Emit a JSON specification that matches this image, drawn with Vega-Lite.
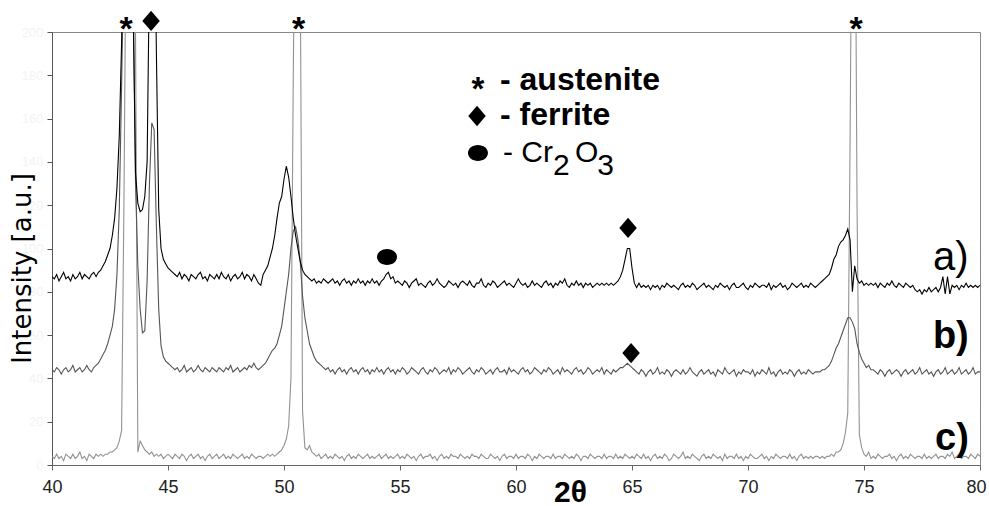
{
  "$schema": "https://vega.github.io/schema/vega-lite/v6.json",
  "width": 928,
  "height": 433,
  "autosize": {"type": "none"},
  "padding": {"left": 52, "top": 32, "right": 9, "bottom": 41},
  "background": "#ffffff",
  "config": {
    "view": {"stroke": "#888888", "strokeWidth": 1},
    "axis": {"grid": false}
  },
  "datasets": {
    "spec": [
{"x":40.0,"a":87,"b":44,"c":4},{"x":40.1,"a":86,"b":43,"c":3},{"x":40.2,"a":88,"b":45,"c":5},{"x":40.3,"a":85,"b":44,"c":3},{"x":40.4,"a":87,"b":42,"c":4},{"x":40.5,"a":89,"b":44,"c":2},{"x":40.6,"a":86,"b":45,"c":5},{"x":40.7,"a":87,"b":43,"c":4},{"x":40.8,"a":85,"b":44,"c":3},{"x":40.9,"a":88,"b":46,"c":5},
{"x":41.0,"a":86,"b":43,"c":3},{"x":41.1,"a":87,"b":44,"c":4},{"x":41.2,"a":89,"b":45,"c":6},{"x":41.3,"a":86,"b":43,"c":3},{"x":41.4,"a":88,"b":44,"c":4},{"x":41.5,"a":87,"b":46,"c":2},{"x":41.6,"a":86,"b":44,"c":5},{"x":41.7,"a":88,"b":43,"c":4},{"x":41.8,"a":89,"b":45,"c":3},{"x":41.9,"a":87,"b":46,"c":5},
{"x":42.0,"a":89,"b":47,"c":4},{"x":42.1,"a":90,"b":49,"c":5},{"x":42.2,"a":92,"b":51,"c":4},{"x":42.3,"a":94,"b":53,"c":5},{"x":42.4,"a":97,"b":56,"c":5},{"x":42.5,"a":100,"b":60,"c":6},{"x":42.6,"a":106,"b":64,"c":6},{"x":42.7,"a":114,"b":72,"c":7},{"x":42.8,"a":128,"b":88,"c":8},{"x":42.9,"a":152,"b":118,"c":11},
{"x":43.0,"a":195,"b":175,"c":16},{"x":43.1,"a":260,"b":240,"c":120},{"x":43.2,"a":300,"b":300,"c":260},{"x":43.3,"a":280,"b":320,"c":320},{"x":43.4,"a":240,"b":290,"c":330},{"x":43.5,"a":210,"b":220,"c":300},{"x":43.6,"a":135,"b":130,"c":200},{"x":43.7,"a":121,"b":92,"c":6},{"x":43.8,"a":117,"b":72,"c":11},{"x":43.9,"a":118,"b":61,"c":9},
{"x":44.0,"a":124,"b":62,"c":7},{"x":44.1,"a":140,"b":85,"c":6},{"x":44.2,"a":230,"b":130,"c":5},{"x":44.3,"a":300,"b":158,"c":6},{"x":44.4,"a":280,"b":155,"c":4},{"x":44.5,"a":190,"b":110,"c":5},{"x":44.6,"a":118,"b":72,"c":4},{"x":44.7,"a":100,"b":55,"c":5},{"x":44.8,"a":95,"b":50,"c":3},{"x":44.9,"a":93,"b":48,"c":4},
{"x":45.0,"a":91,"b":47,"c":5},{"x":45.1,"a":90,"b":46,"c":4},{"x":45.2,"a":89,"b":45,"c":3},{"x":45.3,"a":88,"b":44,"c":5},{"x":45.4,"a":87,"b":45,"c":4},{"x":45.5,"a":89,"b":43,"c":3},{"x":45.6,"a":86,"b":44,"c":5},{"x":45.7,"a":88,"b":46,"c":4},{"x":45.8,"a":87,"b":43,"c":2},{"x":45.9,"a":85,"b":44,"c":4},
{"x":46.0,"a":88,"b":45,"c":5},{"x":46.1,"a":87,"b":43,"c":3},{"x":46.2,"a":86,"b":44,"c":4},{"x":46.3,"a":88,"b":46,"c":5},{"x":46.4,"a":89,"b":44,"c":3},{"x":46.5,"a":86,"b":43,"c":4},{"x":46.6,"a":87,"b":45,"c":2},{"x":46.7,"a":85,"b":44,"c":4},{"x":46.8,"a":88,"b":43,"c":5},{"x":46.9,"a":87,"b":45,"c":3},
{"x":47.0,"a":86,"b":44,"c":4},{"x":47.1,"a":88,"b":43,"c":5},{"x":47.2,"a":86,"b":45,"c":3},{"x":47.3,"a":89,"b":44,"c":4},{"x":47.4,"a":87,"b":43,"c":5},{"x":47.5,"a":86,"b":45,"c":3},{"x":47.6,"a":88,"b":44,"c":4},{"x":47.7,"a":85,"b":46,"c":3},{"x":47.8,"a":87,"b":43,"c":5},{"x":47.9,"a":88,"b":44,"c":4},
{"x":48.0,"a":86,"b":45,"c":3},{"x":48.1,"a":87,"b":43,"c":4},{"x":48.2,"a":89,"b":44,"c":5},{"x":48.3,"a":86,"b":45,"c":3},{"x":48.4,"a":88,"b":44,"c":4},{"x":48.5,"a":87,"b":46,"c":3},{"x":48.6,"a":85,"b":45,"c":5},{"x":48.7,"a":88,"b":47,"c":4},{"x":48.8,"a":86,"b":45,"c":3},{"x":48.9,"a":84,"b":44,"c":4},
{"x":49.0,"a":83,"b":45,"c":4},{"x":49.1,"a":88,"b":46,"c":3},{"x":49.2,"a":90,"b":47,"c":4},{"x":49.3,"a":92,"b":49,"c":5},{"x":49.4,"a":96,"b":51,"c":4},{"x":49.5,"a":100,"b":53,"c":5},{"x":49.6,"a":106,"b":54,"c":4},{"x":49.7,"a":114,"b":56,"c":5},{"x":49.8,"a":121,"b":60,"c":6},{"x":49.9,"a":124,"b":64,"c":7},
{"x":50.0,"a":132,"b":72,"c":9},{"x":50.1,"a":138,"b":80,"c":12},{"x":50.2,"a":133,"b":88,"c":18},{"x":50.3,"a":124,"b":100,"c":40},{"x":50.4,"a":114,"b":108,"c":180},{"x":50.5,"a":106,"b":110,"c":290},{"x":50.6,"a":100,"b":104,"c":330},{"x":50.7,"a":94,"b":94,"c":230},{"x":50.8,"a":90,"b":78,"c":25},{"x":50.9,"a":88,"b":68,"c":8},
{"x":51.0,"a":87,"b":62,"c":7},{"x":51.1,"a":86,"b":56,"c":9},{"x":51.2,"a":85,"b":53,"c":6},{"x":51.3,"a":86,"b":50,"c":5},{"x":51.4,"a":84,"b":48,"c":4},{"x":51.5,"a":85,"b":47,"c":5},{"x":51.6,"a":84,"b":46,"c":3},{"x":51.7,"a":86,"b":45,"c":4},{"x":51.8,"a":85,"b":44,"c":5},{"x":51.9,"a":84,"b":45,"c":3},
{"x":52.0,"a":85,"b":43,"c":4},{"x":52.1,"a":86,"b":44,"c":3},{"x":52.2,"a":84,"b":42,"c":5},{"x":52.3,"a":85,"b":44,"c":4},{"x":52.4,"a":83,"b":45,"c":3},{"x":52.5,"a":85,"b":43,"c":4},{"x":52.6,"a":86,"b":44,"c":2},{"x":52.7,"a":84,"b":42,"c":4},{"x":52.8,"a":85,"b":44,"c":5},{"x":52.9,"a":83,"b":45,"c":3},
{"x":53.0,"a":85,"b":43,"c":4},{"x":53.1,"a":84,"b":44,"c":3},{"x":53.2,"a":86,"b":42,"c":5},{"x":53.3,"a":84,"b":44,"c":4},{"x":53.4,"a":85,"b":45,"c":3},{"x":53.5,"a":83,"b":43,"c":4},{"x":53.6,"a":85,"b":44,"c":5},{"x":53.7,"a":84,"b":42,"c":3},{"x":53.8,"a":86,"b":44,"c":4},{"x":53.9,"a":84,"b":43,"c":3},
{"x":54.0,"a":85,"b":45,"c":4},{"x":54.1,"a":83,"b":43,"c":5},{"x":54.2,"a":85,"b":44,"c":3},{"x":54.3,"a":86,"b":42,"c":4},{"x":54.4,"a":88,"b":44,"c":5},{"x":54.5,"a":89,"b":45,"c":3},{"x":54.6,"a":86,"b":43,"c":4},{"x":54.7,"a":87,"b":44,"c":3},{"x":54.8,"a":84,"b":42,"c":4},{"x":54.9,"a":85,"b":44,"c":5},
{"x":55.0,"a":84,"b":43,"c":3},{"x":55.1,"a":83,"b":45,"c":4},{"x":55.2,"a":85,"b":44,"c":3},{"x":55.3,"a":84,"b":42,"c":5},{"x":55.4,"a":82,"b":43,"c":4},{"x":55.5,"a":84,"b":45,"c":3},{"x":55.6,"a":85,"b":44,"c":4},{"x":55.7,"a":86,"b":43,"c":2},{"x":55.8,"a":83,"b":42,"c":4},{"x":55.9,"a":84,"b":44,"c":5},
{"x":56.0,"a":83,"b":45,"c":3},{"x":56.1,"a":82,"b":43,"c":4},{"x":56.2,"a":84,"b":42,"c":4},{"x":56.3,"a":85,"b":44,"c":5},{"x":56.4,"a":83,"b":43,"c":3},{"x":56.5,"a":84,"b":45,"c":4},{"x":56.6,"a":86,"b":44,"c":2},{"x":56.7,"a":84,"b":42,"c":4},{"x":56.8,"a":83,"b":43,"c":5},{"x":56.9,"a":82,"b":44,"c":3},
{"x":57.0,"a":83,"b":43,"c":4},{"x":57.1,"a":85,"b":45,"c":3},{"x":57.2,"a":84,"b":42,"c":5},{"x":57.3,"a":83,"b":44,"c":4},{"x":57.4,"a":84,"b":43,"c":4},{"x":57.5,"a":82,"b":45,"c":3},{"x":57.6,"a":84,"b":44,"c":5},{"x":57.7,"a":85,"b":42,"c":4},{"x":57.8,"a":84,"b":43,"c":3},{"x":57.9,"a":83,"b":44,"c":4},
{"x":58.0,"a":85,"b":45,"c":3},{"x":58.1,"a":83,"b":43,"c":5},{"x":58.2,"a":82,"b":42,"c":4},{"x":58.3,"a":84,"b":44,"c":4},{"x":58.4,"a":84,"b":43,"c":3},{"x":58.5,"a":86,"b":45,"c":5},{"x":58.6,"a":83,"b":44,"c":4},{"x":58.7,"a":82,"b":42,"c":3},{"x":58.8,"a":84,"b":43,"c":3},{"x":58.9,"a":83,"b":44,"c":5},
{"x":59.0,"a":85,"b":42,"c":4},{"x":59.1,"a":84,"b":44,"c":3},{"x":59.2,"a":82,"b":45,"c":4},{"x":59.3,"a":83,"b":43,"c":2},{"x":59.4,"a":84,"b":43,"c":4},{"x":59.5,"a":85,"b":44,"c":5},{"x":59.6,"a":83,"b":42,"c":3},{"x":59.7,"a":84,"b":45,"c":4},{"x":59.8,"a":83,"b":43,"c":4},{"x":59.9,"a":82,"b":44,"c":3},
{"x":60.0,"a":84,"b":43,"c":5},{"x":60.1,"a":86,"b":42,"c":3},{"x":60.2,"a":84,"b":44,"c":4},{"x":60.3,"a":83,"b":45,"c":4},{"x":60.4,"a":84,"b":43,"c":3},{"x":60.5,"a":82,"b":44,"c":5},{"x":60.6,"a":83,"b":42,"c":4},{"x":60.7,"a":85,"b":43,"c":2},{"x":60.8,"a":83,"b":45,"c":4},{"x":60.9,"a":84,"b":44,"c":3},
{"x":61.0,"a":83,"b":43,"c":5},{"x":61.1,"a":82,"b":42,"c":4},{"x":61.2,"a":84,"b":44,"c":3},{"x":61.3,"a":85,"b":43,"c":4},{"x":61.4,"a":83,"b":45,"c":4},{"x":61.5,"a":84,"b":44,"c":3},{"x":61.6,"a":82,"b":42,"c":5},{"x":61.7,"a":84,"b":43,"c":3},{"x":61.8,"a":83,"b":44,"c":4},{"x":61.9,"a":85,"b":42,"c":4},
{"x":62.0,"a":84,"b":45,"c":3},{"x":62.1,"a":86,"b":43,"c":5},{"x":62.2,"a":83,"b":44,"c":4},{"x":62.3,"a":82,"b":43,"c":3},{"x":62.4,"a":84,"b":42,"c":4},{"x":62.5,"a":83,"b":44,"c":3},{"x":62.6,"a":85,"b":45,"c":5},{"x":62.7,"a":83,"b":43,"c":4},{"x":62.8,"a":84,"b":44,"c":2},{"x":62.9,"a":82,"b":42,"c":4},
{"x":63.0,"a":84,"b":43,"c":4},{"x":63.1,"a":83,"b":45,"c":3},{"x":63.2,"a":84,"b":44,"c":5},{"x":63.3,"a":82,"b":42,"c":4},{"x":63.4,"a":83,"b":43,"c":3},{"x":63.5,"a":84,"b":44,"c":4},{"x":63.6,"a":83,"b":43,"c":4},{"x":63.7,"a":84,"b":45,"c":3},{"x":63.8,"a":83,"b":42,"c":5},{"x":63.9,"a":84,"b":44,"c":3},
{"x":64.0,"a":83,"b":43,"c":4},{"x":64.1,"a":84,"b":42,"c":4},{"x":64.2,"a":83,"b":44,"c":3},{"x":64.3,"a":84,"b":43,"c":5},{"x":64.4,"a":85,"b":44,"c":3},{"x":64.5,"a":87,"b":45,"c":4},{"x":64.6,"a":90,"b":45,"c":3},{"x":64.7,"a":95,"b":46,"c":5},{"x":64.8,"a":100,"b":47,"c":4},{"x":64.9,"a":100,"b":46,"c":3},
{"x":65.0,"a":91,"b":45,"c":4},{"x":65.1,"a":84,"b":44,"c":3},{"x":65.2,"a":82,"b":43,"c":5},{"x":65.3,"a":84,"b":42,"c":4},{"x":65.4,"a":82,"b":44,"c":3},{"x":65.5,"a":83,"b":43,"c":5},{"x":65.6,"a":82,"b":41,"c":3},{"x":65.7,"a":83,"b":43,"c":4},{"x":65.8,"a":81,"b":44,"c":2},{"x":65.9,"a":83,"b":42,"c":4},
{"x":66.0,"a":82,"b":43,"c":5},{"x":66.1,"a":83,"b":45,"c":3},{"x":66.2,"a":81,"b":42,"c":4},{"x":66.3,"a":83,"b":43,"c":3},{"x":66.4,"a":82,"b":42,"c":5},{"x":66.5,"a":84,"b":44,"c":4},{"x":66.6,"a":83,"b":43,"c":2},{"x":66.7,"a":82,"b":41,"c":3},{"x":66.8,"a":83,"b":43,"c":5},{"x":66.9,"a":82,"b":44,"c":4},
{"x":67.0,"a":81,"b":43,"c":3},{"x":67.1,"a":83,"b":42,"c":4},{"x":67.2,"a":84,"b":44,"c":6},{"x":67.3,"a":82,"b":42,"c":3},{"x":67.4,"a":83,"b":43,"c":4},{"x":67.5,"a":82,"b":45,"c":3},{"x":67.6,"a":84,"b":43,"c":5},{"x":67.7,"a":83,"b":42,"c":4},{"x":67.8,"a":81,"b":41,"c":3},{"x":67.9,"a":82,"b":43,"c":2},
{"x":68.0,"a":83,"b":44,"c":4},{"x":68.1,"a":84,"b":42,"c":5},{"x":68.2,"a":82,"b":43,"c":3},{"x":68.3,"a":83,"b":44,"c":4},{"x":68.4,"a":82,"b":42,"c":3},{"x":68.5,"a":81,"b":43,"c":5},{"x":68.6,"a":83,"b":41,"c":4},{"x":68.7,"a":82,"b":44,"c":3},{"x":68.8,"a":84,"b":43,"c":4},{"x":68.9,"a":83,"b":42,"c":2},
{"x":69.0,"a":82,"b":45,"c":5},{"x":69.1,"a":83,"b":43,"c":3},{"x":69.2,"a":81,"b":42,"c":4},{"x":69.3,"a":83,"b":43,"c":4},{"x":69.4,"a":84,"b":44,"c":3},{"x":69.5,"a":82,"b":41,"c":5},{"x":69.6,"a":82,"b":43,"c":3},{"x":69.7,"a":83,"b":42,"c":4},{"x":69.8,"a":84,"b":44,"c":2},{"x":69.9,"a":82,"b":43,"c":4},
{"x":70.0,"a":81,"b":43,"c":3},{"x":70.1,"a":83,"b":42,"c":5},{"x":70.2,"a":82,"b":44,"c":4},{"x":70.3,"a":84,"b":41,"c":3},{"x":70.4,"a":83,"b":43,"c":3},{"x":70.5,"a":82,"b":42,"c":4},{"x":70.6,"a":83,"b":44,"c":5},{"x":70.7,"a":83,"b":43,"c":3},{"x":70.8,"a":82,"b":42,"c":4},{"x":70.9,"a":84,"b":45,"c":2},
{"x":71.0,"a":81,"b":42,"c":4},{"x":71.1,"a":83,"b":43,"c":3},{"x":71.2,"a":82,"b":41,"c":5},{"x":71.3,"a":83,"b":43,"c":4},{"x":71.4,"a":84,"b":44,"c":3},{"x":71.5,"a":82,"b":42,"c":4},{"x":71.6,"a":83,"b":43,"c":4},{"x":71.7,"a":81,"b":42,"c":3},{"x":71.8,"a":82,"b":44,"c":5},{"x":71.9,"a":84,"b":43,"c":3},
{"x":72.0,"a":83,"b":41,"c":4},{"x":72.1,"a":82,"b":43,"c":2},{"x":72.2,"a":83,"b":44,"c":4},{"x":72.3,"a":84,"b":42,"c":5},{"x":72.4,"a":82,"b":43,"c":3},{"x":72.5,"a":83,"b":42,"c":4},{"x":72.6,"a":82,"b":44,"c":3},{"x":72.7,"a":84,"b":43,"c":4},{"x":72.8,"a":83,"b":42,"c":3},{"x":72.9,"a":82,"b":43,"c":4},
{"x":73.0,"a":83,"b":43,"c":4},{"x":73.1,"a":84,"b":43,"c":3},{"x":73.2,"a":85,"b":44,"c":4},{"x":73.3,"a":86,"b":44,"c":3},{"x":73.4,"a":87,"b":45,"c":4},{"x":73.5,"a":88,"b":46,"c":4},{"x":73.6,"a":91,"b":48,"c":5},{"x":73.7,"a":95,"b":51,"c":4},{"x":73.8,"a":97,"b":54,"c":6},{"x":73.9,"a":101,"b":56,"c":6},
{"x":74.0,"a":103,"b":59,"c":7},{"x":74.1,"a":104,"b":62,"c":10},{"x":74.2,"a":106,"b":65,"c":15},{"x":74.3,"a":109,"b":68,"c":24},{"x":74.4,"a":104,"b":68,"c":150},{"x":74.5,"a":80,"b":66,"c":300},{"x":74.6,"a":92,"b":63,"c":310},{"x":74.7,"a":86,"b":56,"c":120},{"x":74.8,"a":84,"b":52,"c":14},{"x":74.9,"a":85,"b":49,"c":8},
{"x":75.0,"a":83,"b":47,"c":5},{"x":75.1,"a":84,"b":45,"c":4},{"x":75.2,"a":83,"b":46,"c":6},{"x":75.3,"a":84,"b":44,"c":3},{"x":75.4,"a":83,"b":44,"c":4},{"x":75.5,"a":84,"b":43,"c":3},{"x":75.6,"a":82,"b":42,"c":5},{"x":75.7,"a":84,"b":44,"c":4},{"x":75.8,"a":83,"b":43,"c":3},{"x":75.9,"a":82,"b":41,"c":4},
{"x":76.0,"a":84,"b":43,"c":4},{"x":76.1,"a":83,"b":44,"c":5},{"x":76.2,"a":85,"b":42,"c":3},{"x":76.3,"a":83,"b":43,"c":4},{"x":76.4,"a":82,"b":44,"c":2},{"x":76.5,"a":84,"b":43,"c":4},{"x":76.6,"a":83,"b":41,"c":5},{"x":76.7,"a":82,"b":43,"c":3},{"x":76.8,"a":84,"b":44,"c":4},{"x":76.9,"a":83,"b":42,"c":3},
{"x":77.0,"a":82,"b":43,"c":5},{"x":77.1,"a":83,"b":44,"c":4},{"x":77.2,"a":81,"b":42,"c":3},{"x":77.3,"a":80,"b":43,"c":4},{"x":77.4,"a":81,"b":45,"c":4},{"x":77.5,"a":79,"b":42,"c":3},{"x":77.6,"a":81,"b":43,"c":5},{"x":77.7,"a":80,"b":44,"c":3},{"x":77.8,"a":82,"b":42,"c":4},{"x":77.9,"a":80,"b":43,"c":3},
{"x":78.0,"a":81,"b":41,"c":4},{"x":78.1,"a":82,"b":43,"c":5},{"x":78.2,"a":80,"b":44,"c":3},{"x":78.3,"a":82,"b":42,"c":4},{"x":78.4,"a":87,"b":43,"c":4},{"x":78.5,"a":79,"b":45,"c":3},{"x":78.6,"a":87,"b":42,"c":5},{"x":78.7,"a":79,"b":43,"c":4},{"x":78.8,"a":83,"b":44,"c":6},{"x":78.9,"a":82,"b":42,"c":3},
{"x":79.0,"a":83,"b":43,"c":4},{"x":79.1,"a":81,"b":45,"c":5},{"x":79.2,"a":83,"b":42,"c":3},{"x":79.3,"a":82,"b":43,"c":4},{"x":79.4,"a":84,"b":44,"c":4},{"x":79.5,"a":82,"b":42,"c":3},{"x":79.6,"a":83,"b":43,"c":5},{"x":79.7,"a":82,"b":45,"c":4},{"x":79.8,"a":83,"b":42,"c":3},{"x":79.9,"a":82,"b":43,"c":5},
{"x":80.0,"a":83,"b":43,"c":4}
    ],
    "ann": [
      {"kind":"star","x":43.19,"y":196.3,"t":"*"},
      {"kind":"star","x":50.63,"y":196.3,"t":"*"},
      {"kind":"star","x":74.66,"y":196.3,"t":"*"},
      {"kind":"legstar","x":58.36,"y":168.5,"t":"*"},
      {"kind":"bold","x":59.31,"y":173.2,"t":"- austenite"},
      {"kind":"bold","x":59.31,"y":157.0,"t":"- ferrite"},
      {"kind":"reg","x":59.44,"y":139.95,"t":"- Cr"},
      {"kind":"reg","x":62.54,"y":139.95,"t":"O"},
      {"kind":"sub","x":61.6,"y":133.95,"t":"2"},
      {"kind":"sub","x":63.5,"y":133.95,"t":"3"},
      {"kind":"labreg","x":77.97,"y":90.07,"t":"a)"},
      {"kind":"labbold","x":77.97,"y":54.04,"t":"b)"},
      {"kind":"labbold","x":78.06,"y":6.93,"t":"c)"},
      {"kind":"diamond","x":44.27,"y":205.1},
      {"kind":"diamond","x":64.83,"y":109.5},
      {"kind":"diamond","x":64.96,"y":51.7},
      {"kind":"diamond","x":58.32,"y":161.2},
      {"kind":"circle","x":54.44,"y":96.1},
      {"kind":"circle","x":58.36,"y":144.1}
    ]
  },
  "encoding": {
    "x": {
      "field": "x", "type": "quantitative",
      "scale": {"domain": [40, 80], "nice": false, "zero": false},
      "axis": {
        "values": [40, 45, 50, 55, 60, 65, 70, 75, 80],
        "tickSize": 5, "tickColor": "#666666", "domainColor": "#666666",
        "labelFlush": false,
        "labelAlign": {"condition": {"test": "datum.value >= 80", "value": "right"}, "value": "center"},
        "labelOffset": {"condition": {"test": "datum.value >= 80", "value": 6}, "value": 0},
        "labelFont": "Liberation Sans Narrow, Arial Narrow, Liberation Sans, sans-serif",
        "labelFontSize": 18, "labelColor": "#222222", "labelPadding": 8,
        "title": "2θ", "titleFont": "Liberation Sans", "titleFontSize": 30, "titleFontWeight": "bold",
        "titleColor": "#000000", "titleX": 518, "titleY": 27, "titleBaseline": "middle", "titleAlign": "center"
      }
    },
    "y": {
      "field": "y", "type": "quantitative",
      "scale": {"domain": [0, 200], "nice": false, "zero": true},
      "axis": {
        "values": [0, 20, 40, 60, 80, 100, 120, 140, 160, 180, 200],
        "tickSize": 5, "tickColor": "#555555", "domainColor": "#555555",
        "labelFlush": false,
        "labelColor": "#f3f3f3", "labelFontSize": 13, "labelPadding": 4,
        "title": "Intensity [a.u.]", "titleFont": "DejaVu Sans", "titleFontSize": 26, "titleFontWeight": "normal",
        "titleColor": "#000000", "titleAngle": -90, "titleX": -30, "titleY": 236,
        "titleAlign": "center", "titleBaseline": "middle"
      }
    }
  },
  "layer": [
    {
      "data": {"name": "spec"},
      "transform": [{"fold": ["c", "b", "a"], "as": ["series", "y"]}],
      "mark": {"type": "line", "clip": true, "strokeWidth": 1.1, "interpolate": "linear"},
      "encoding": {
        "color": {"field": "series", "type": "nominal",
          "scale": {"domain": ["a", "b", "c"], "range": ["#000000", "#555555", "#929292"]},
          "legend": null}
      }
    },
    {
      "data": {"name": "ann"},
      "transform": [{"filter": "datum.kind === 'star'"}],
      "mark": {"type": "text", "align": "center", "baseline": "alphabetic", "font": "Liberation Sans", "fontSize": 34, "fontWeight": "bold", "color": "#000000"},
      "encoding": {"text": {"field": "t"}}
    },
    {
      "data": {"name": "ann"},
      "transform": [{"filter": "datum.kind === 'legstar'"}],
      "mark": {"type": "text", "align": "center", "baseline": "alphabetic", "font": "Liberation Sans", "fontSize": 33, "fontWeight": "bold", "color": "#000000"},
      "encoding": {"text": {"field": "t"}}
    },
    {
      "data": {"name": "ann"},
      "transform": [{"filter": "datum.kind === 'bold'"}],
      "mark": {"type": "text", "align": "left", "baseline": "alphabetic", "font": "Liberation Sans", "fontSize": 32, "fontWeight": "bold", "color": "#000000"},
      "encoding": {"text": {"field": "t"}}
    },
    {
      "data": {"name": "ann"},
      "transform": [{"filter": "datum.kind === 'reg'"}],
      "mark": {"type": "text", "align": "left", "baseline": "alphabetic", "font": "Liberation Sans", "fontSize": 30, "fontWeight": "normal", "color": "#000000"},
      "encoding": {"text": {"field": "t"}}
    },
    {
      "data": {"name": "ann"},
      "transform": [{"filter": "datum.kind === 'sub'"}],
      "mark": {"type": "text", "align": "left", "baseline": "alphabetic", "font": "Liberation Sans", "fontSize": 30, "fontWeight": "normal", "color": "#000000"},
      "encoding": {"text": {"field": "t"}}
    },
    {
      "data": {"name": "ann"},
      "transform": [{"filter": "datum.kind === 'labreg'"}],
      "mark": {"type": "text", "align": "left", "baseline": "alphabetic", "font": "Liberation Sans", "fontSize": 40, "fontWeight": "normal", "color": "#000000"},
      "encoding": {"text": {"field": "t"}}
    },
    {
      "data": {"name": "ann"},
      "transform": [{"filter": "datum.kind === 'labbold'"}],
      "mark": {"type": "text", "align": "left", "baseline": "alphabetic", "font": "Liberation Sans", "fontSize": 38, "fontWeight": "bold", "color": "#000000"},
      "encoding": {"text": {"field": "t"}}
    },
    {
      "data": {"name": "ann"},
      "transform": [{"filter": "datum.kind === 'diamond'"}],
      "mark": {"type": "point", "shape": "M0,-1.1L0.95,0L0,1.1L-0.95,0Z", "size": 340, "filled": true, "color": "#000000", "opacity": 1, "strokeWidth": 0}
    },
    {
      "data": {"name": "ann"},
      "transform": [{"filter": "datum.kind === 'circle'"}],
      "mark": {"type": "point", "shape": "M-1,0A1,0.8,0,1,0,1,0A1,0.8,0,1,0,-1,0Z", "size": 400, "filled": true, "color": "#000000", "opacity": 1, "strokeWidth": 0}
    }
  ]
}
